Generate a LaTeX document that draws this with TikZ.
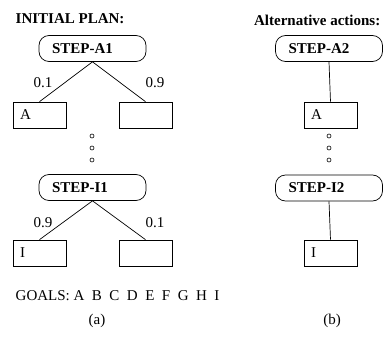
\documentclass[tikz,border=0pt]{standalone}
\usepackage{fontspec}
\setmainfont{Liberation Serif}
\usepackage{tikz}
\usetikzlibrary{calc}

\begin{document}
\begin{tikzpicture}[x=1pt,y=-1pt,line width=0.7pt,
		stepbox/.style={draw,rounded corners=10pt,minimum height=26pt,inner xsep=13pt,text width=81pt,align=left,font=\fontsize{15}{17}\selectfont\bfseries},
		goalbox/.style={draw,minimum height=26pt,inner xsep=7pt,text width=39pt,align=left,font=\fontsize{15}{17}\selectfont},
		txt/.style={font=\fontsize{15}{17}\selectfont},
		hole/.style={draw,circle,inner sep=0pt,minimum size=4pt,line width=0.6pt}]
			\useasboundingbox (0,0) rectangle (383,337);
			
			\node[txt,font=\fontsize{15}{17}\selectfont\bfseries,anchor=west] (planA) at (12,19) {INITIAL PLAN:};
			\node[txt,font=\fontsize{15}{17}\selectfont\bfseries,anchor=east] (planB) at (384,20) {Alternative actions:};
			
			\node[stepbox] (A1) at (92.5,48.5) {STEP-A1};
			\node[goalbox] (A1l) at (39.5,115) {A};
			\node[goalbox] (A1r) at (145.5,115) {};
			\draw (A1.south) -- (A1l.north);
			\draw (A1.south) -- (A1r.north);
			\node[txt] (pA1l) at (43,83) {0.1};
			\node[txt] (pA1r) at (155,83) {0.9};
			
			\node[hole] (d1) at (92,136) {};
			\node[hole] (d2) at (92,148) {};
			\node[hole] (d3) at (92,160) {};
			
			\node[stepbox] (I1) at (92.5,187.5) {STEP-I1};
			\node[goalbox] (I1l) at (39.5,253) {I};
			\node[goalbox] (I1r) at (145.5,253) {};
			\draw (I1.south) -- (I1l.north);
			\draw (I1.south) -- (I1r.north);
			\node[txt] (pI1l) at (43,223) {0.9};
			\node[txt] (pI1r) at (155,223) {0.1};
			
			\node[txt,anchor=west] (goals) at (12,296) {GOALS: A\ \ B\ \ C\ \ D\ \ E\ \ F\ \ G\ \ H\ \ I};
			\node[txt] (capA) at (97,321) {(a)};
			
			\node[stepbox] (A2) at (329,48.5) {STEP-A2};
			\node[goalbox] (A2g) at (330.5,115) {A};
			\draw (A2.south) -- (A2g.north);
			
			\node[hole] (e1) at (329,136) {};
			\node[hole] (e2) at (329,148) {};
			\node[hole] (e3) at (329,160) {};
			
			\node[stepbox] (I2) at (329,188) {STEP-I2};
			\node[goalbox] (I2g) at (330.5,253) {I};
			\draw (I2.south) -- (I2g.north);
			
			\node[txt] (capB) at (332,321) {(b)};
		\end{tikzpicture}
\end{document}
